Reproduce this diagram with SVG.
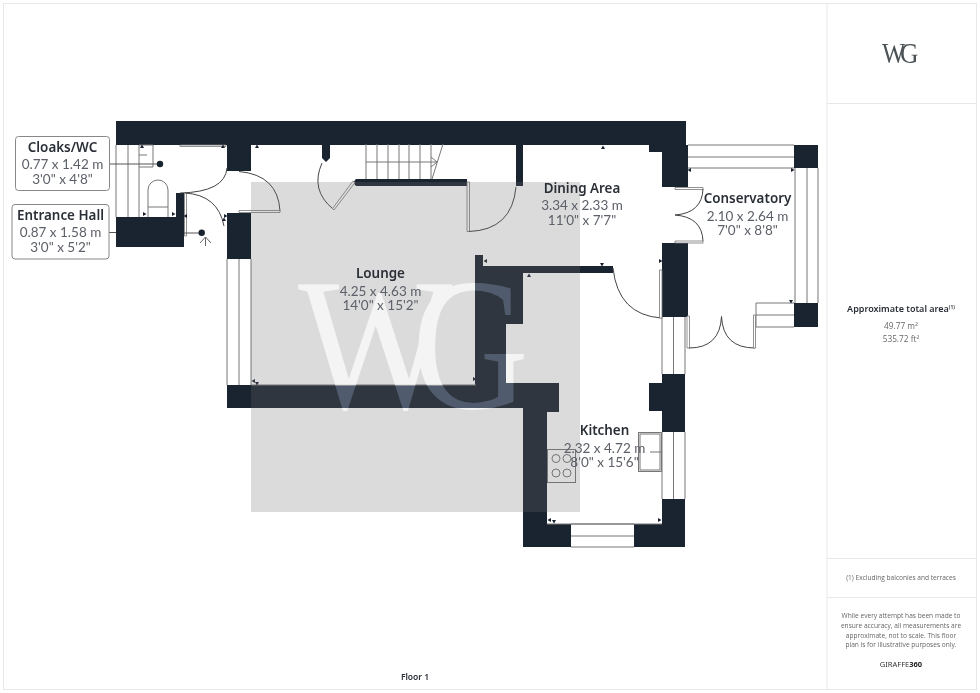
<svg xmlns="http://www.w3.org/2000/svg" width="980" height="693" viewBox="0 0 980 693">
<style>
.wall{fill:#1a2330}
.ln{fill:none;stroke:#777;stroke-width:1}
.dk{fill:none;stroke:#444;stroke-width:1}
.lf{fill:#fff;stroke:#777;stroke-width:.8}
.t{font-family:"Noto Sans",Inter,sans-serif;font-weight:600;font-size:13.4px;fill:#2a2e36;text-anchor:middle}
.d{font-family:Lato,"Noto Sans",sans-serif;font-size:13.5px;fill:#5c6068;text-anchor:middle}
.p{font-family:"Open Sans","Noto Sans",sans-serif;font-size:6.6px;fill:#666;text-anchor:middle}
.m{font-family:"Open Sans","Noto Sans",sans-serif;font-size:8.3px;fill:#666;text-anchor:middle}
.box{fill:#fff;stroke:#888;stroke-width:1}
.tick{fill:#1a2330}
</style>
<defs><path id="tk" d="M-2,0L2,0L0,-3.5Z"/></defs>
<rect width="980" height="693" fill="#fff"/>
<g id="frame" fill="none" stroke="#e8e8e8" stroke-width="1">
<rect x="3.5" y="3.5" width="973" height="686"/>
<path d="M827,3.5V689.5M827,103.5H976M827,558.5H976M827,597.5H976"/>
</g>
<g id="walls" class="wall">
<path d="M116,121H686V145H688V187H662V152H649V145H116Z"/>
<path d="M227,145H251V171H227Z"/>
<path d="M227,213H251V259H227Z"/>
<path d="M116,217H176V193H184V247H116Z"/>
<path d="M322,145H330V158L326,162L322,158Z"/>
<path d="M516,145H523V186H516Z"/>
<path d="M356,179H467V186H356L353,182.5Z"/>
<path d="M662,243H688V317H662Z"/>
<path d="M662,374H685V432H662V411H649V383H662Z"/>
<path d="M475,255H483V266H613V273H523V324H506V383H559V412H547V524H571V547H523V408H227V385H475Z"/>
<path d="M662,499H685V547H634V524H662Z"/>
<path d="M794,145H818V168H794Z"/>
<path d="M794,303H818V327H794Z"/>
</g>
<g id="windows" class="ln">
<path d="M116,145V217M128,145V217M139,145V217"/>
<path d="M227,259V385M239,259V385M251,259V385"/>
<path d="M688,145H794M688,157H794M688,168H794"/>
<path d="M795,168V303M807,168V303M818,168V303"/>
<path d="M756,303H794M756,315H794M756,327H794M756,303V327"/>
<path d="M662,317V374M673.5,317V374M685,317V374"/>
<path d="M662,432V499M673.5,432V499M685,432V499"/>
<path d="M571,524H634M571,536H634M571,547H634M547,524H662"/>
<path d="M251,385H476"/>
</g>
<g id="fixtures" class="ln">
<path d="M139,145H153V167H139M139,155H147"/>
<path d="M148,217V190A10,10 0 0 1 168,190V217M148,207H168"/>
<path d="M366,144V179M377,144V179M388,144V179M399,144V179M409,144V179M420,144V179M431,144V179M366,162H437M443,144L432,179M431,157L437,162L431,167"/>
<rect x="638.500" y="432.500" width="23" height="39"/>
<rect x="640" y="434" width="20" height="36"/>
<path d="M650,452H662"/>
<rect x="547.500" y="449.500" width="28" height="33"/>
<circle cx="556" cy="458.500" r="4"/><circle cx="567" cy="458.500" r="4"/><circle cx="556" cy="473" r="4"/><circle cx="567" cy="473" r="4"/>
</g>
<g id="doors">
<path class="lf" d="M180,145H226V146.500H180Z"/>
<path class="dk" d="M227,168Q225,192 180,193"/>
<path class="lf" d="M184.500,193H186.500V236H184.500Z"/>
<path class="dk" d="M185,193Q218,195 224,226"/>
<path class="dk" d="M239,171.500Q278,175 280,211"/>
<path class="lf" d="M239,210.500H280V212.500H239Z"/>
<path class="dk" d="M322,163Q310,190 333,209"/>
<path class="lf" d="M332.500,208.500L353,181L355,182.500L334,210Z"/>
<path class="lf" d="M467,182H469.500V231.500H467Z"/>
<path class="dk" d="M469,231.500Q512,230 516,187"/>
<path class="dk" d="M613,268Q618,315 661.500,318"/>
<path class="lf" d="M659.500,270H662V318H659.500Z"/>
<path class="lf" d="M675,187.500H703V189.500H675Z"/>
<path class="dk" d="M703,189Q702,213 675,215Q702,217 703,241"/>
<path class="lf" d="M675,241H703V243H675Z"/>
<path class="lf" d="M687,316H689.500V348H687Z"/>
<path class="dk" d="M689,348Q720,348 721.500,316.500Q723,348 755,348"/>
<path class="lf" d="M753.500,315H755.500V348H753.500Z"/>
</g>
<g id="ticks" class="tick">
<use href="#tk" x="142" y="148"/><use href="#tk" x="223" y="148"/><use href="#tk" x="257" y="148"/>
<use href="#tk" x="603" y="149"/><use href="#tk" x="529" y="277"/><use href="#tk" x="602" y="263" transform="rotate(180 602 263)"/>
<use href="#tk" x="143" y="214" transform="rotate(90 143 214)"/><use href="#tk" x="172" y="214" transform="rotate(90 172 214)"/>
<use href="#tk" x="187" y="216" transform="rotate(-90 187 216)"/><use href="#tk" x="224" y="216" transform="rotate(90 224 216)"/>
<use href="#tk" x="224" y="221"/>
<use href="#tk" x="487" y="261" transform="rotate(-90 487 261)"/>
<use href="#tk" x="691" y="170" transform="rotate(-90 691 170)"/><use href="#tk" x="791" y="170" transform="rotate(90 791 170)"/>
<use href="#tk" x="659" y="261" transform="rotate(90 659 261)"/><use href="#tk" x="791" y="300" transform="rotate(180 791 300)"/>
<use href="#tk" x="255" y="381" transform="rotate(-90 255 381)"/><use href="#tk" x="257" y="382" transform="rotate(180 257 382)"/><use href="#tk" x="473" y="379" transform="rotate(90 473 379)"/>
<use href="#tk" x="551" y="520" transform="rotate(-90 551 520)"/><use href="#tk" x="554" y="520" transform="rotate(180 554 520)"/><use href="#tk" x="658" y="520" transform="rotate(90 658 520)"/>
</g>
<g id="connectors">
<path d="M109,164H160" stroke="#555" fill="none"/>
<circle cx="160" cy="164" r="3.200" fill="#1a2330"/>
<path d="M109,232.500H116M184,233H202" stroke="#555" fill="none"/>
<circle cx="201.700" cy="232.700" r="3.200" fill="#1a2330"/>
<path d="M205.500,246V237M200,243L205.500,237L211,243" stroke="#666" fill="none"/>
</g>
<g id="watermark">
<rect x="251" y="182" width="329" height="330" fill="#6e6e6e" opacity=".25"/>
<g style="mix-blend-mode:overlay" fill="#fff" opacity=".7" font-family="Liberation Serif,serif">
<text transform="translate(298,408) scale(.87,1)" font-size="188">W</text>
<text transform="translate(412,408) scale(.86,1)" font-size="188">G</text>
</g>
</g>
<g id="cloaks">
<rect class="box" x="15.500" y="136.500" width="94" height="54" rx="3"/>
<text class="t" x="62.500" y="151.500">Cloaks/WC</text>
<text class="d" x="62.500" y="169">0.77 x 1.42 m</text>
<text class="d" x="62.500" y="183.500">3'0" x 4'8"</text>
</g>
<g id="entrance">
<rect class="box" x="12" y="204.500" width="97" height="54.500" rx="3"/>
<text class="t" x="60.500" y="220">Entrance Hall</text>
<text class="d" x="60.500" y="237">0.87 x 1.58 m</text>
<text class="d" x="60.500" y="251.500">3'0" x 5'2"</text>
</g>
<g id="lounge">
<text class="t" x="380.500" y="278">Lounge</text>
<text class="d" x="380.500" y="296">4.25 x 4.63 m</text>
<text class="d" x="380.500" y="310">14'0" x 15'2"</text>
</g>
<g id="dining">
<text class="t" x="582" y="192.500">Dining Area</text>
<text class="d" x="582" y="210">3.34 x 2.33 m</text>
<text class="d" x="582" y="224.500">11'0" x 7'7"</text>
</g>
<g id="conservatory">
<text class="t" x="747.500" y="203">Conservatory</text>
<text class="d" x="747.500" y="220.500">2.10 x 2.64 m</text>
<text class="d" x="747.500" y="235">7'0" x 8'8"</text>
</g>
<g id="kitchen">
<text class="t" x="604.500" y="435">Kitchen</text>
<text class="d" x="604.500" y="453">2.32 x 4.72 m</text>
<text class="d" x="604.500" y="467">8'0" x 15'6"</text>
</g>
<g id="panel">
<g fill="#4b5255" font-family="Liberation Serif,serif" font-size="30">
<text transform="translate(882,63) scale(.82,1)">W</text>
<text transform="translate(900,63) scale(.85,1)">G</text>
</g>
<text x="901" y="312" text-anchor="middle" font-family="'Noto Sans',sans-serif" font-weight="600" font-size="9" fill="#2a2e36">Approximate total area<tspan font-size="5" dy="-3">(1)</tspan></text>
<text class="m" x="901" y="329">49.77 m²</text>
<text class="m" x="901" y="342">535.72 ft²</text>
<text class="p" x="901" y="580">(1) Excluding balconies and terraces</text>
<text class="p" x="901" y="618">While every attempt has been made to</text>
<text class="p" x="901" y="628">ensure accuracy, all measurements are</text>
<text class="p" x="901" y="638">approximate, not to scale. This floor</text>
<text class="p" x="901" y="647">plan is for illustrative purposes only.</text>
<text x="901" y="667" text-anchor="middle" font-family="'Noto Sans',sans-serif" font-size="7.500" fill="#333">GIRAFFE<tspan font-weight="700" fill="#222">360</tspan></text>
<text x="415" y="680" text-anchor="middle" font-family="'Noto Sans',sans-serif" font-weight="600" font-size="8.500" fill="#2a2e36">Floor 1</text>
</g>
</svg>
